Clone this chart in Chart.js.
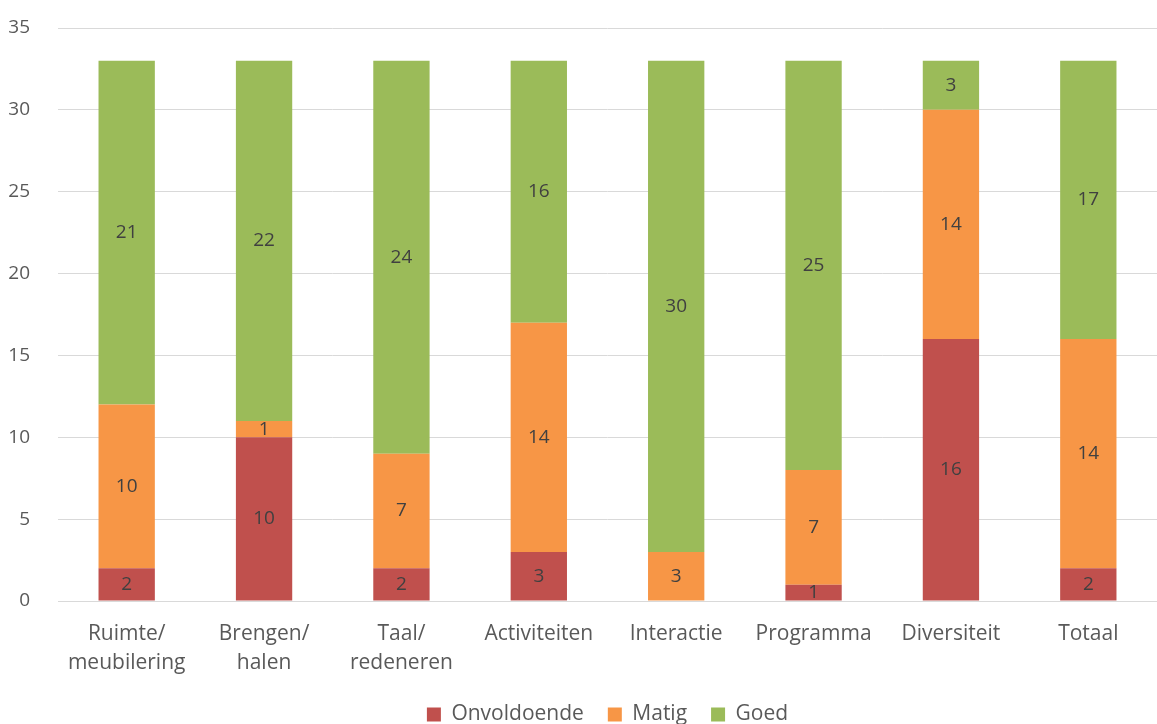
<!DOCTYPE html>
<html>
<head>
<meta charset="utf-8">
<script src="https://cdn.jsdelivr.net/npm/chart.js@4/dist/chart.umd.min.js"></script>
<style>
  html, body { margin: 0; padding: 0; background: #fff; overflow: hidden; }
  #wrap { width: 1157px; height: 735px; }
</style>
</head>
<body>
<div id="wrap"><canvas id="scoreChart"></canvas></div>
<script>
const categories = [
  ["Ruimte/", "meubilering"],
  ["Brengen/", "halen"],
  ["Taal/", "redeneren"],
  "Activiteiten",
  "Interactie",
  "Programma",
  "Diversiteit",
  "Totaal"
];
const onvoldoende = [2, 10, 2, 3, 0, 1, 16, 2];
const matig = [10, 1, 7, 14, 3, 7, 14, 14];
const goed = [21, 22, 24, 16, 30, 25, 3, 17];

const fontName = "'Open Sans', 'Liberation Sans', sans-serif";

// draws the number in the middle of every segment (skips zeros)
const segmentLabels = {
  id: "segmentLabels",
  afterDatasetsDraw(chart) {
    const ctx = chart.ctx;
    ctx.save();
    ctx.font = "19px " + fontName;
    ctx.fillStyle = "#404040";
    ctx.textAlign = "center";
    ctx.textBaseline = "middle";
    chart.data.datasets.forEach((ds, i) => {
      const meta = chart.getDatasetMeta(i);
      meta.data.forEach((bar, j) => {
        const v = ds.data[j];
        if (!v) return;
        ctx.fillText(String(v), bar.x, (bar.y + bar.base) / 2);
      });
    });
    ctx.restore();
  }
};

function loadChart() {
  const data = {
    labels: categories,
    datasets: [
      { label: "Onvoldoende", data: onvoldoende, backgroundColor: "#C0504D" },
      { label: "Matig", data: matig, backgroundColor: "#F79646" },
      { label: "Goed", data: goed, backgroundColor: "#9BBB59" }
    ]
  };
  const options = {
    responsive: true,
    maintainAspectRatio: false,
    animation: false,
    layout: { padding: { top: 28, right: 0, left: 0, bottom: 0 } },
    datasets: { bar: { barPercentage: 0.41, categoryPercentage: 1 } },
    scales: {
      x: {
        stacked: true,
        grid: { display: false },
        border: { color: "#D9D9D9" },
        ticks: { color: "#595959", font: { size: 21, family: fontName, lineHeight: 1.38 }, padding: 11, maxRotation: 0 },
        afterFit(scale) { scale.height = 79; scale.paddingTop = 0; scale.paddingBottom = 0; }
      },
      y: {
        stacked: true,
        min: 0,
        max: 35,
        ticks: { stepSize: 5, color: "#595959", font: { size: 19, family: fontName }, padding: 28 },
        grid: { color: "#D9D9D9", drawTicks: false },
        border: { display: false },
        afterFit(scale) { scale.width = 58; scale.paddingTop = 0; scale.paddingBottom = 0; }
      }
    },
    plugins: {
      legend: {
        position: "bottom",
        fullSize: false,
        labels: {
          boxWidth: 14,
          boxHeight: 14,
          padding: 24,
          color: "#595959",
          font: { size: 21, family: fontName }
        }
      },
      tooltip: { enabled: false }
    }
  };
  new Chart(document.getElementById("scoreChart"), { type: "bar", data: data, options: options, plugins: [segmentLabels] });
}

loadChart();
</script>
</body>
</html>
